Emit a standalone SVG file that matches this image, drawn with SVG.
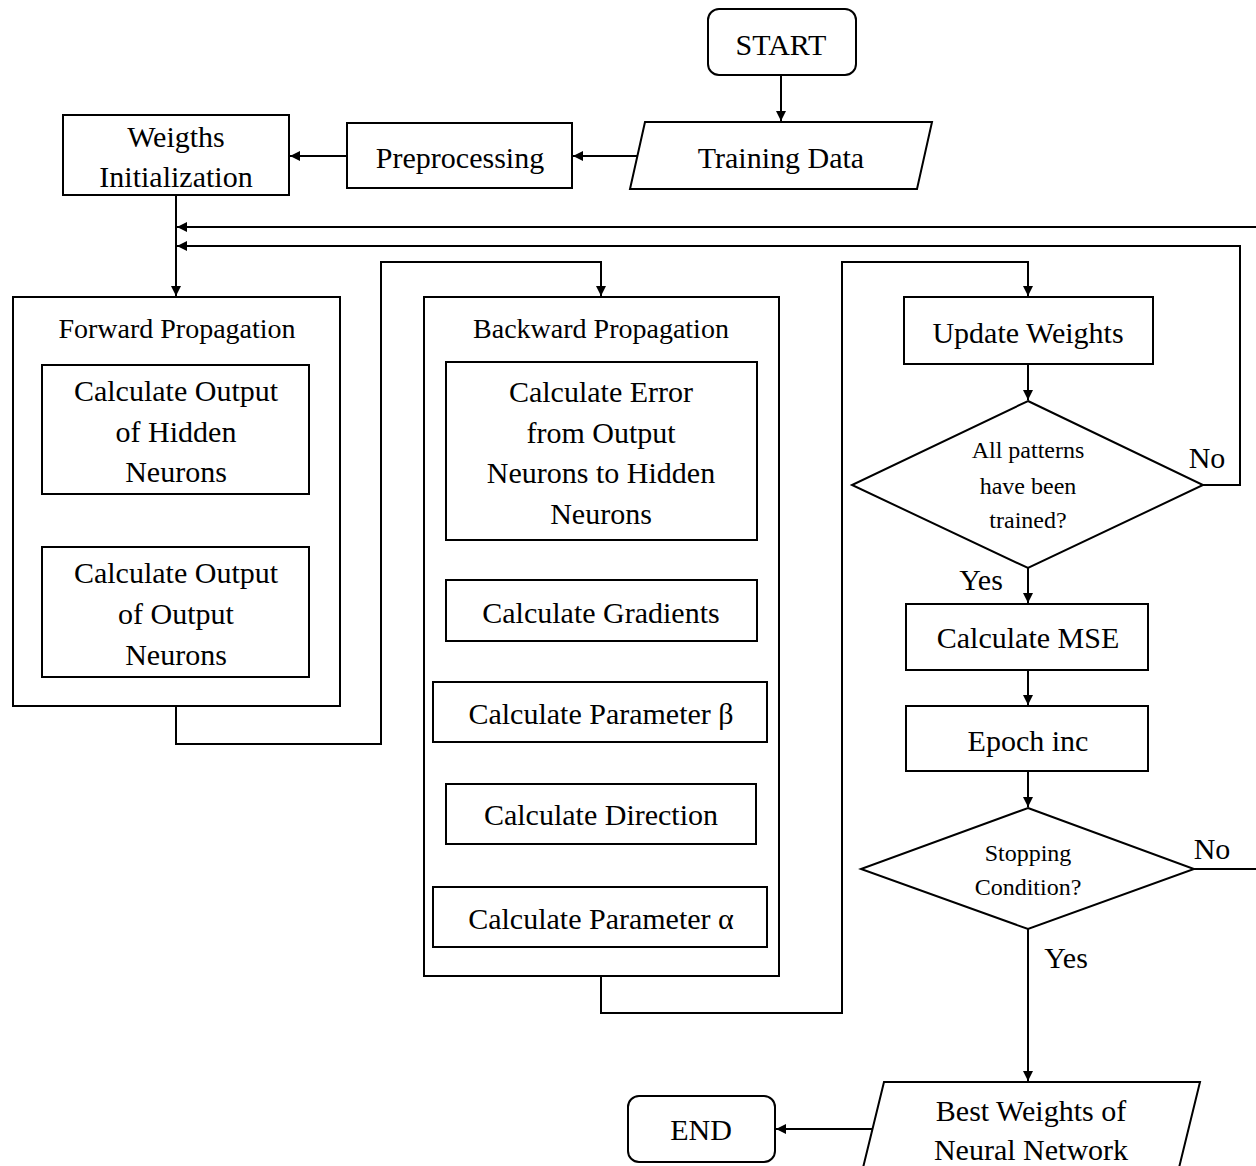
<svg xmlns="http://www.w3.org/2000/svg" width="1256" height="1166" viewBox="0 0 1256 1166" font-family="Liberation Serif, Tinos, Times New Roman, Noto Serif, DejaVu Serif, serif">
<defs>
<marker id="ah" viewBox="0 0 10 10" refX="10" refY="5" markerWidth="10" markerHeight="10" markerUnits="userSpaceOnUse" orient="auto">
<path d="M0,0 L10,5 L0,10 z" fill="#000"/>
</marker>
</defs>
<style>
.b{fill:#fff;stroke:#000;stroke-width:2}
.c{fill:none;stroke:#000;stroke-width:2}
.a{fill:none;stroke:#000;stroke-width:2;marker-end:url(#ah)}
text{font-size:30px;fill:#000;text-anchor:middle}
.t{font-size:28px}
.s{font-size:24px}
</style>
<rect width="1256" height="1166" fill="#fff"/>
<g id="connectors">
<path class="a" d="M781,75 V121"/>
<path class="a" d="M637,156 H573"/>
<path class="a" d="M347,156 H290"/>
<path class="a" d="M176,195 V296"/>
<path class="a" d="M1256,227 H177"/>
<path class="a" d="M1203,485 H1240 V246 H177"/>
<path class="a" d="M176,494 V546"/>
<path class="a" d="M176,706 V744 H381 V262 H601 V296"/>
<path class="a" d="M601,540 V579"/>
<path class="a" d="M601,641 V681"/>
<path class="a" d="M601,742 V783"/>
<path class="a" d="M601,844 V886"/>
<path class="a" d="M601,976 V1013 H842 V262 H1028 V296"/>
<path class="a" d="M1028,364 V400"/>
<path class="a" d="M1028,568 V603"/>
<path class="a" d="M1028,670 V705"/>
<path class="a" d="M1028,771 V807"/>
<path class="c" d="M1194,869 H1256"/>
<path class="a" d="M1028,929 V1081"/>
<path class="a" d="M874,1129 H776"/>
</g>
<g id="start"><rect class="b" x="708" y="9" width="148" height="66" rx="11"/><text x="781" y="55">START</text></g>
<g id="training-data"><polygon class="b" points="645,122 932,122 917,189 630,189"/><text x="781" y="168">Training Data</text></g>
<g id="preprocessing"><rect class="b" x="347" y="123" width="225" height="65"/><text x="460" y="168">Preprocessing</text></g>
<g id="weights-init"><rect class="b" x="63" y="115" width="226" height="80"/><text x="176" y="147">Weigths</text><text x="176" y="187">Initialization</text></g>
<g id="forward-propagation"><rect class="b" x="13" y="297" width="327" height="409"/><text class="t" x="177" y="338">Forward Propagation</text></g>
<g id="calc-hidden"><rect class="b" x="42" y="365" width="267" height="129"/><text x="176" y="401">Calculate Output</text><text x="176" y="442">of Hidden</text><text x="176" y="482">Neurons</text></g>
<g id="calc-output"><rect class="b" x="42" y="547" width="267" height="130"/><text x="176" y="583">Calculate Output</text><text x="176" y="624">of Output</text><text x="176" y="665">Neurons</text></g>
<g id="backward-propagation"><rect class="b" x="424" y="297" width="355" height="679"/><text class="t" x="601" y="338">Backward Propagation</text></g>
<g id="calc-error"><rect class="b" x="446" y="362" width="311" height="178"/><text x="601" y="402">Calculate Error</text><text x="601" y="443">from Output</text><text x="601" y="483">Neurons to Hidden</text><text x="601" y="524">Neurons</text></g>
<g id="calc-gradients"><rect class="b" x="446" y="580" width="311" height="61"/><text x="601" y="623">Calculate Gradients</text></g>
<g id="calc-beta"><rect class="b" x="433" y="682" width="334" height="60"/><text x="601" y="724">Calculate Parameter β</text></g>
<g id="calc-direction"><rect class="b" x="446" y="784" width="310" height="60"/><text x="601" y="825">Calculate Direction</text></g>
<g id="calc-alpha"><rect class="b" x="433" y="887" width="334" height="60"/><text x="601" y="929">Calculate Parameter α</text></g>
<g id="update-weights"><rect class="b" x="904" y="297" width="249" height="67"/><text x="1028" y="343">Update Weights</text></g>
<g id="all-patterns"><polygon class="b" points="1028,401 1203,485 1028,568 852,485"/><text class="s" x="1028" y="458">All patterns</text><text class="s" x="1028" y="494">have been</text><text class="s" x="1028" y="528">trained?</text></g>
<text x="1207" y="468">No</text>
<text x="981" y="590">Yes</text>
<g id="calc-mse"><rect class="b" x="906" y="604" width="242" height="66"/><text x="1028" y="648">Calculate MSE</text></g>
<g id="epoch-inc"><rect class="b" x="906" y="706" width="242" height="65"/><text x="1028" y="751">Epoch inc</text></g>
<g id="stopping"><polygon class="b" points="1028,808 1194,869 1028,929 861,869"/><text class="s" x="1028" y="861">Stopping</text><text class="s" x="1028" y="895">Condition?</text></g>
<text x="1212" y="859">No</text>
<text x="1066" y="968">Yes</text>
<g id="best-weights"><polygon class="b" points="884,1082 1200,1082 1177,1176 861,1176"/><text x="1031" y="1121">Best Weights of</text><text x="1031" y="1160">Neural Network</text></g>
<g id="end"><rect class="b" x="628" y="1096" width="147" height="66" rx="11"/><text x="701" y="1140">END</text></g>
</svg>
